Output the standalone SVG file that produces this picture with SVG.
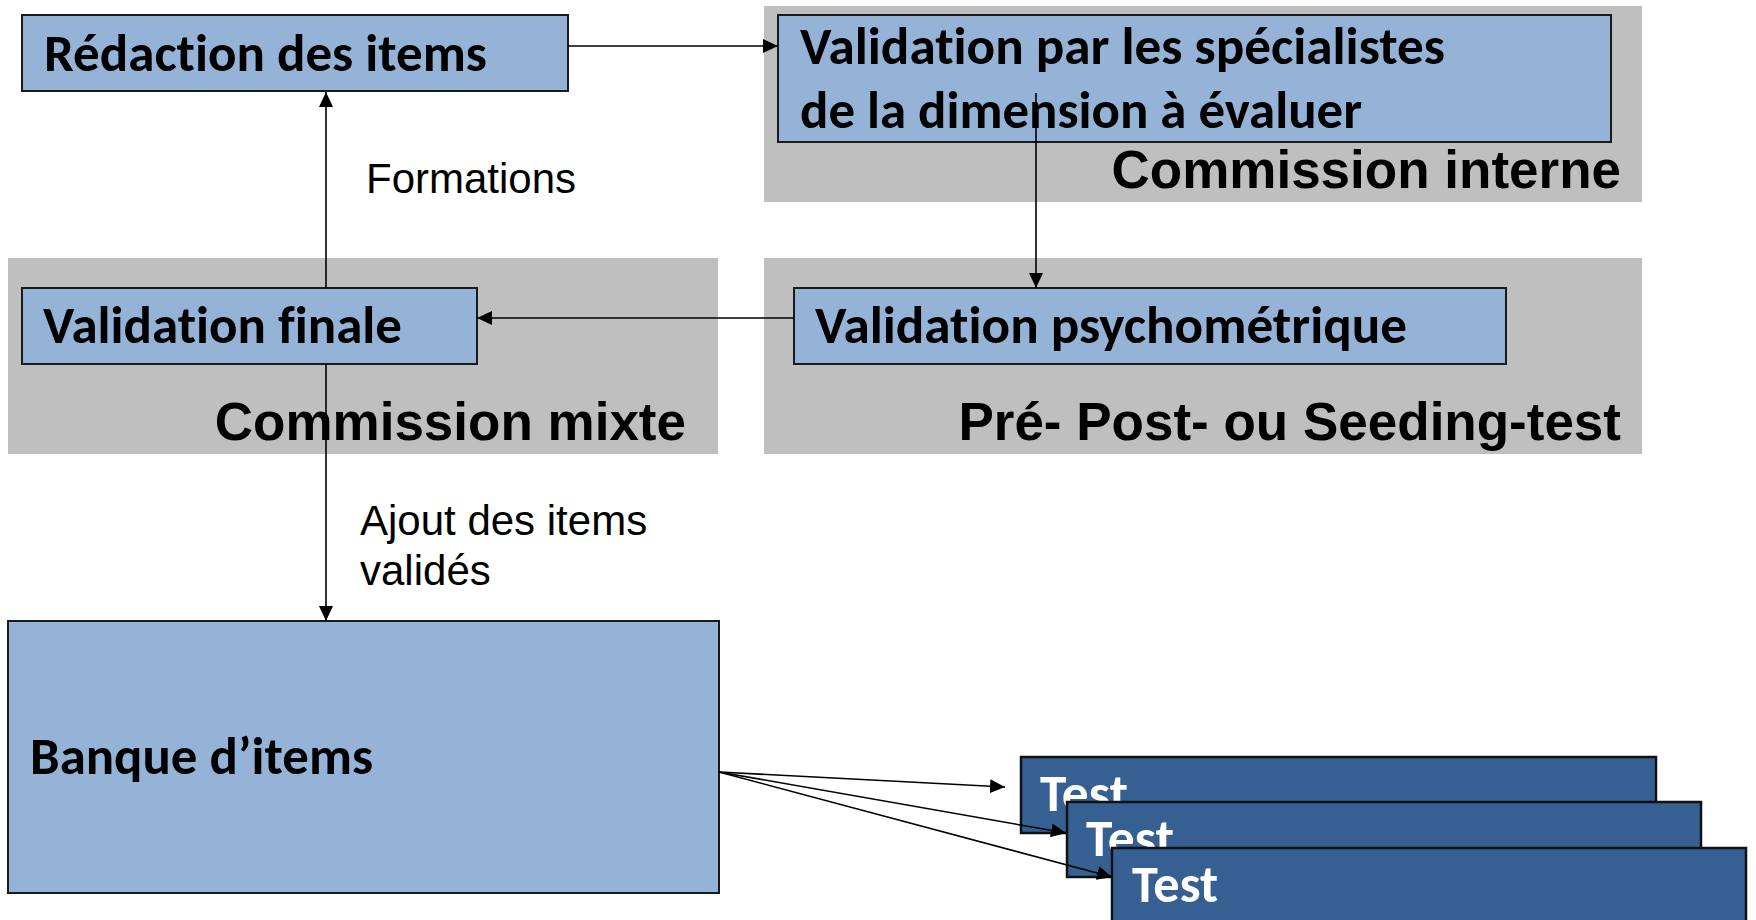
<svg xmlns="http://www.w3.org/2000/svg" width="1756" height="920" viewBox="0 0 1756 920">
<style>
.grp{fill:#bfbfbf;stroke:none}
.box{fill:#95b3d7;stroke:#1a1a1a;stroke-width:2}
.tbox{fill:#376092;stroke:#111;stroke-width:2.5}
.bt{font-family:Carlito,"Open Sans",sans-serif;font-weight:bold;font-size:52px;fill:#000;font-variant-ligatures:none}
.wt{font-family:Carlito,"Open Sans",sans-serif;font-weight:bold;font-size:52px;fill:#fff;font-variant-ligatures:none}
.gl{font-family:"Liberation Sans",Arial,sans-serif;font-weight:bold;font-size:53px;fill:#000;text-anchor:end}
.lb{font-family:"Liberation Sans",Arial,sans-serif;font-size:42px;fill:#000}
.cn{fill:none;stroke:#000;stroke-width:1.6;marker-end:url(#ah)}
</style>
<defs>
<marker id="ah" markerUnits="userSpaceOnUse" markerWidth="15" markerHeight="14" refX="15" refY="7" orient="auto">
<path d="M0,0 L15,7 L0,14 z" fill="#000"/>
</marker>
</defs>
<rect width="1756" height="920" fill="#fff"/>
<g id="group-commission-interne">
<rect class="grp" x="764" y="6" width="878" height="196"/>
<text class="gl" x="1621" y="188">Commission interne</text>
</g>
<g id="group-commission-mixte">
<rect class="grp" x="8" y="258" width="710" height="196"/>
<text class="gl" x="686" y="440">Commission mixte</text>
</g>
<g id="group-pre-post">
<rect class="grp" x="764" y="258" width="878" height="196"/>
<text class="gl" x="1621" y="440">Pré- Post- ou Seeding-test</text>
</g>
<g id="node-redaction">
<rect class="box" x="22" y="15" width="546" height="76"/>
<text class="bt" x="44" y="71" textLength="443" lengthAdjust="spacingAndGlyphs">Rédaction des items</text>
</g>
<g id="node-validation-specialistes">
<rect class="box" x="778" y="15" width="833" height="127"/>
<text class="bt" x="800" y="64" textLength="645" lengthAdjust="spacingAndGlyphs">Validation par les spécialistes</text>
<text class="bt" x="800" y="128" textLength="562" lengthAdjust="spacingAndGlyphs">de la dimension à évaluer</text>
</g>
<g id="node-validation-finale">
<rect class="box" x="22" y="288" width="455" height="76"/>
<text class="bt" x="43" y="343" textLength="359" lengthAdjust="spacingAndGlyphs">Validation finale</text>
</g>
<g id="node-validation-psychometrique">
<rect class="box" x="794" y="288" width="712" height="76"/>
<text class="bt" x="815" y="343" textLength="592" lengthAdjust="spacingAndGlyphs">Validation psychométrique</text>
</g>
<g id="node-banque">
<rect class="box" x="8" y="621" width="711" height="272"/>
<text class="bt" x="30" y="774" textLength="343" lengthAdjust="spacingAndGlyphs">Banque d’items</text>
</g>
<g id="node-test-1">
<rect class="tbox" x="1021" y="757" width="635" height="76"/>
<text class="wt" x="1040" y="811" textLength="88" lengthAdjust="spacingAndGlyphs">Test</text>
</g>
<g id="node-test-2">
<rect class="tbox" x="1067" y="802" width="634" height="75"/>
<text class="wt" x="1086" y="856" textLength="88" lengthAdjust="spacingAndGlyphs">Test</text>
</g>
<g id="node-test-3">
<rect class="tbox" x="1112" y="848" width="634" height="80"/>
<text class="wt" x="1132" y="902" textLength="86" lengthAdjust="spacingAndGlyphs">Test</text>
</g>
<g id="labels">
<text class="lb" x="366" y="193">Formations</text>
<text class="lb" x="360" y="535">Ajout des items</text>
<text class="lb" x="360" y="585">validés</text>
</g>
<g id="connectors">
<line class="cn" x1="568" y1="46" x2="778" y2="46"/>
<line class="cn" x1="1036" y1="93" x2="1036" y2="288"/>
<line class="cn" x1="794" y1="318" x2="477" y2="318"/>
<line class="cn" x1="326" y1="288" x2="326" y2="92"/>
<line class="cn" x1="326" y1="364" x2="326" y2="621"/>
<line class="cn" x1="719" y1="772" x2="1005" y2="787"/>
<line class="cn" x1="719" y1="772" x2="1066" y2="833"/>
<line class="cn" x1="719" y1="772" x2="1112" y2="877"/>
</g>
</svg>
